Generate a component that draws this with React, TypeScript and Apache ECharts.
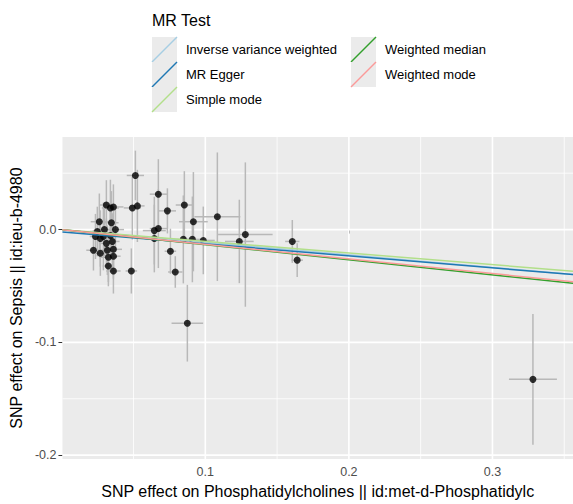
import React, { useEffect, useRef } from "react";
import * as echarts from "echarts";

// SNP effects (exposure x, outcome y) and their standard errors
const snpX = [
  0.0311, 0.0339, 0.036, 0.0262, 0.0248, 0.0297, 0.0346, 0.0374, 0.0235, 0.0269,
  0.029, 0.0339, 0.0353, 0.0221, 0.0269, 0.0318, 0.036, 0.0325, 0.036, 0.0325,
  0.036, 0.0311, 0.0485, 0.0492, 0.0527, 0.0513, 0.0645, 0.0645, 0.0673, 0.0673,
  0.0736, 0.0757, 0.0791, 0.0847, 0.0854, 0.0875, 0.091, 0.0917, 0.0986, 0.1084,
  0.1237, 0.1279, 0.1606, 0.164, 0.3282,
];
const snpY = [
  0.0218, 0.0192, 0.0201, 0.007, -0.0017, 0.0, 0.0061, 0.0, -0.0061, -0.0079,
  -0.0061, -0.0052, -0.0105, -0.0183, -0.021, -0.0183, -0.0175, -0.0245, -0.0236, -0.0323,
  -0.0367, -0.0122, -0.0367, 0.0192, 0.021, 0.048, -0.0079, -0.0009, 0.0009, 0.0314,
  0.0166, -0.0192, -0.0376, -0.0087, 0.0218, -0.083, -0.0087, 0.007, -0.0096, 0.0114,
  -0.0105, -0.0044, -0.0105, -0.0271, -0.1328,
];
const seX = [
  0.005, 0.006, 0.007, 0.006, 0.005, 0.006, 0.005, 0.006, 0.004, 0.005,
  0.005, 0.006, 0.005, 0.005, 0.006, 0.005, 0.006, 0.006, 0.005, 0.004,
  0.005, 0.005, 0.004, 0.006, 0.005, 0.006, 0.006, 0.008, 0.006, 0.006,
  0.006, 0.004, 0.005, 0.007, 0.006, 0.011, 0.006, 0.01, 0.008, 0.016,
  0.01, 0.019, 0.005, 0.004, 0.0167,
];
const seY = [
  0.022, 0.025, 0.02, 0.025, 0.022, 0.024, 0.028, 0.02, 0.02, 0.025,
  0.03, 0.022, 0.025, 0.018, 0.02, 0.022, 0.02, 0.022, 0.02, 0.018,
  0.02, 0.022, 0.02, 0.028, 0.032, 0.022, 0.03, 0.03, 0.035, 0.031,
  0.02, 0.02, 0.014, 0.039, 0.03, 0.034, 0.038, 0.044, 0.03, 0.057,
  0.037, 0.064, 0.019, 0.015, 0.058,
];

// MR methods and their fitted lines
const methods = [
  "Inverse variance weighted",
  "MR Egger",
  "Simple mode",
  "Weighted median",
  "Weighted mode",
];
const methodColors = ["#a6cee3", "#1f78b4", "#b2df8a", "#33a02c", "#fb9a99"];
const slopes = [-0.112, -0.1065, -0.1037, -0.1337, -0.13];
const intercepts = [0, -0.002, 0, 0, 0];

// axes
const xRange = [0.0005, 0.3561];
const yRange = [-0.2035, 0.0821];
const xTicks = [0.1, 0.2, 0.3];
const xTickLabels = ["0.1", "0.2", "0.3"];
const yTicks = [-0.2, -0.1, 0];
const yTickLabels = ["-0.2", "-0.1", "0.0"];
const xMinorGrid = [0.05, 0.15, 0.25, 0.35];
const yMinorGrid = [-0.15, -0.05, 0.05];

const xTitle = "SNP effect on Phosphatidylcholines || id:met-d-Phosphatidylc";
const yTitle = "SNP effect on Sepsis || id:ieu-b-4980";
const legendTitle = "MR Test";

const FONT = "Liberation Sans, Arial, Helvetica, sans-serif";

export default function App() {
  const ref = useRef<HTMLDivElement>(null);

  useEffect(() => {
    if (!ref.current) return;
    const chart = echarts.init(ref.current, undefined, { renderer: "svg" });

    const pointData = snpX.map((x, i) => [x, snpY[i], seX[i], seY[i]]);

    const hGrid = [
      ...yTicks.map((v) => [xRange[0], v, 1]),
      ...yMinorGrid.map((v) => [xRange[0], v, 0]),
    ];
    const vGrid = [
      ...xTicks.map((v) => [v, yRange[0], 1]),
      ...xMinorGrid.map((v) => [v, yRange[0], 0]),
    ];

    const lineSeries = methods.map((m, i) => ({
      name: m,
      type: "line",
      z: 5,
      silent: true,
      showSymbol: false,
      symbol: "none",
      lineStyle: { color: methodColors[i], width: 1.5 },
      data: xRange.map((x) => [x, intercepts[i] + slopes[i] * x]),
    }));

    // legend graphic
    const legendItems: any[] = [
      {
        type: "text",
        left: 152,
        top: 12,
        style: { text: legendTitle, font: `16px ${FONT}`, fill: "#000" },
      },
    ];
    const colX = [152, 351];
    const rowY = [37, 62, 87];
    methods.forEach((m, i) => {
      const col = i < 3 ? 0 : 1;
      const row = i < 3 ? i : i - 3;
      const kx = colX[col];
      const ky = rowY[row];
      legendItems.push({
        type: "rect",
        shape: { x: kx, y: ky, width: 25, height: 25 },
        style: { fill: "#ebebeb" },
      });
      legendItems.push({
        type: "line",
        shape: { x1: kx, y1: ky + 25, x2: kx + 25, y2: ky },
        style: { stroke: methodColors[i], lineWidth: 1.5 },
      });
      legendItems.push({
        type: "text",
        x: kx + 34,
        y: ky + 12.5,
        style: {
          text: m,
          font: `13px ${FONT}`,
          fill: "#000",
          verticalAlign: "middle",
          textAlign: "left",
        },
      });
    });

    const option: any = {
      animation: false,
      backgroundColor: "#ffffff",
      grid: {
        left: 62,
        right: 0,
        top: 137,
        bottom: 40,
        show: true,
        backgroundColor: "#ebebeb",
        borderWidth: 0,
      },
      xAxis: {
        type: "value",
        min: xRange[0],
        max: xRange[1],
        name: xTitle,
        nameLocation: "middle",
        nameGap: 22,
        nameTextStyle: { fontFamily: FONT, fontSize: 16, color: "#000" },
        axisLine: { show: false },
        splitLine: { show: false },
        axisTick: {
          show: true,
          length: 4,
          customValues: xTicks,
          lineStyle: { color: "#333333", width: 1 },
        },
        axisLabel: {
          customValues: xTicks,
          margin: 6,
          fontFamily: FONT,
          fontSize: 12.5,
          color: "#4d4d4d",
          formatter: (v: number) => {
            const k = xTicks.findIndex((t) => Math.abs(t - v) < 1e-9);
            return k >= 0 ? xTickLabels[k] : "";
          },
        },
      },
      yAxis: {
        type: "value",
        min: yRange[0],
        max: yRange[1],
        name: yTitle,
        nameLocation: "middle",
        nameGap: 35,
        nameRotate: 90,
        nameTextStyle: { fontFamily: FONT, fontSize: 16, color: "#000" },
        axisLine: { show: false },
        splitLine: { show: false },
        axisTick: {
          show: true,
          length: 4,
          customValues: yTicks,
          lineStyle: { color: "#333333", width: 1 },
        },
        axisLabel: {
          customValues: yTicks,
          margin: 6,
          fontFamily: FONT,
          fontSize: 12.5,
          color: "#4d4d4d",
          formatter: (v: number) => {
            const k = yTicks.findIndex((t) => Math.abs(t - v) < 1e-9);
            return k >= 0 ? yTickLabels[k] : "";
          },
        },
      },
      graphic: legendItems,
      series: [
        {
          type: "custom",
          z: 1,
          silent: true,
          data: hGrid,
          encode: { x: 0, y: 1 },
          renderItem: (params: any, api: any) => {
            const cs = params.coordSys;
            const p = api.coord([xRange[0], api.value(1)]);
            const major = api.value(2) === 1;
            return {
              type: "line",
              shape: { x1: cs.x, y1: p[1], x2: cs.x + cs.width, y2: p[1] },
              style: { stroke: "#ffffff", lineWidth: major ? 1.6 : 0.8 },
            };
          },
        },
        {
          type: "custom",
          z: 1,
          silent: true,
          data: vGrid,
          encode: { x: 0, y: 1 },
          renderItem: (params: any, api: any) => {
            const cs = params.coordSys;
            const p = api.coord([api.value(0), yRange[0]]);
            const major = api.value(2) === 1;
            return {
              type: "line",
              shape: { x1: p[0], y1: cs.y, x2: p[0], y2: cs.y + cs.height },
              style: { stroke: "#ffffff", lineWidth: major ? 1.6 : 0.8 },
            };
          },
        },
        {
          type: "custom",
          z: 2,
          silent: true,
          data: pointData,
          encode: { x: 0, y: 1 },
          renderItem: (_params: any, api: any) => {
            const x = api.value(0);
            const y = api.value(1);
            const sx = api.value(2);
            const sy = api.value(3);
            const h1 = api.coord([x - sx, y]);
            const h2 = api.coord([x + sx, y]);
            const v1 = api.coord([x, y - sy]);
            const v2 = api.coord([x, y + sy]);
            const st = { stroke: "#b8b8b8", lineWidth: 1.5 };
            return {
              type: "group",
              children: [
                { type: "line", shape: { x1: h1[0], y1: h1[1], x2: h2[0], y2: h2[1] }, style: st },
                { type: "line", shape: { x1: v1[0], y1: v1[1], x2: v2[0], y2: v2[1] }, style: st },
              ],
            };
          },
        },
        {
          type: "scatter",
          z: 3,
          silent: true,
          symbolSize: 7,
          itemStyle: { color: "#000000" },
          data: snpX.map((x, i) => [x, snpY[i]]),
        },
        ...lineSeries,
      ],
    };

    chart.setOption(option);
    return () => chart.dispose();
  }, []);

  return (
    <div
      ref={ref}
      style={{ position: "fixed", left: 0, top: 0, width: 573, height: 504 }}
    />
  );
}
